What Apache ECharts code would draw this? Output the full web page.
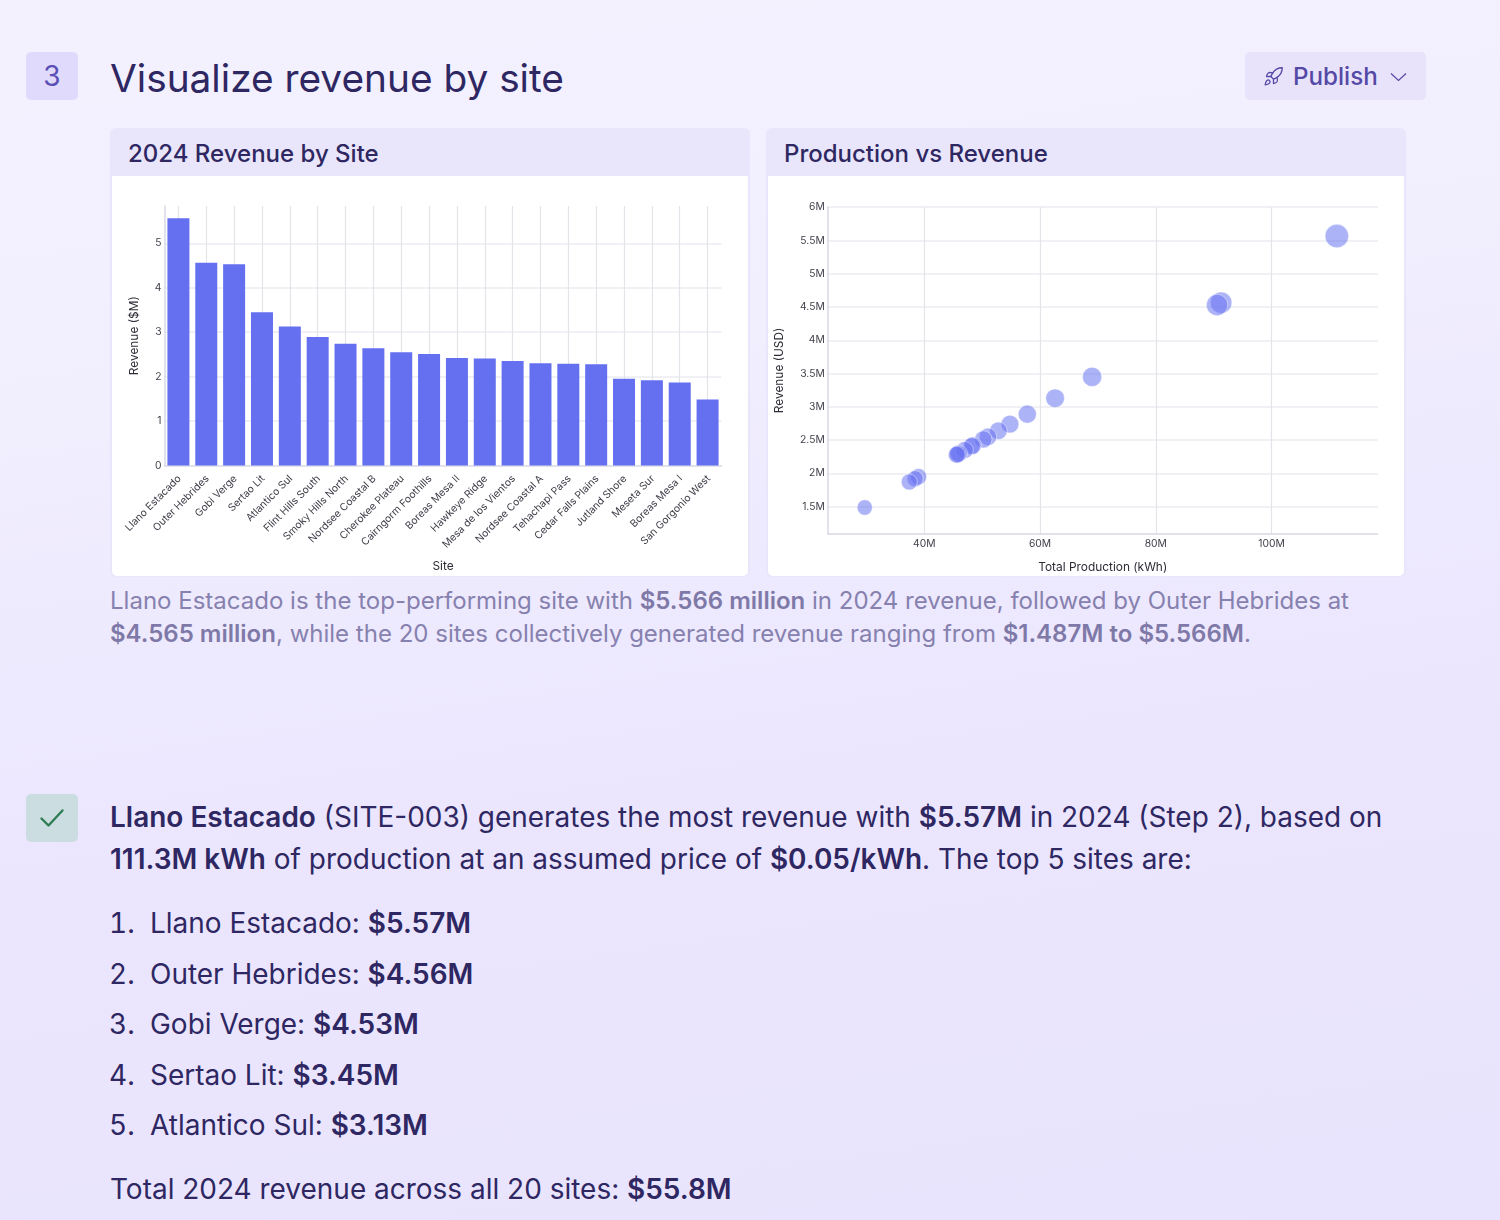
<!DOCTYPE html>
<html>
<head>
<meta charset="utf-8">
<title>Visualize revenue by site</title>
<script src="https://cdn.jsdelivr.net/npm/echarts@6/dist/echarts.min.js"></script>
<style>
  html, body { margin: 0; padding: 0; }
  body {
    width: 1500px; height: 1220px; position: relative; overflow: hidden;
    background: linear-gradient(172deg, #f4f1ff 0%, #f1eefe 30%, #ebe6fe 62%, #e9e4fd 100%);
    font-family: Inter, "Noto Sans", sans-serif; color: #2e2762;
  }
  .t { position: absolute; white-space: nowrap; line-height: 1; transform: translateY(-50%); }
  b { font-weight: 600; }
  .badge { position: absolute; left: 26px; width: 52px; height: 48px; border-radius: 5px; display: flex; align-items: center; justify-content: center; }
  .card { position: absolute; top: 128px; width: 640px; height: 449px; border-radius: 6px; background: #e9e6fb; }
  .card .body { position: absolute; left: 2px; right: 2px; top: 48px; bottom: 1px; background: #fff; border-radius: 0 0 5px 5px; }
  .card .plot { width: 636px; height: 400px; }
  .card .name { position: absolute; left: 18px; top: 26px; font-size: 24px; font-weight: 460; transform: translateY(-50%); line-height: 1; white-space: nowrap; }
  .publish { position: absolute; left: 1245px; top: 52px; width: 181px; height: 48px; background: #e8e3fa; border-radius: 5px; color: #5549a6; }
  .caption { color: #8681ae; font-size: 24.03px; }
  .caption b { color: #7f79a8; }
  .line { font-size: 27.98px; }
  .num { font-variant-numeric: tabular-nums; }
</style>
</head>
<body>
  <div class="badge" style="top:52px;background:#e0dafc;color:#5a4fb5;font-size:28px;">3</div>
  <div class="t" style="left:110px;top:78px;font-size:38.8px;">Visualize revenue by site</div>

  <div class="publish">
    <svg style="position:absolute;left:18px;top:14px" width="21" height="21" viewBox="0 0 24 24" fill="none" stroke="#5549a6" stroke-width="1.5" stroke-linecap="round" stroke-linejoin="round">
      <path d="M4.5 16.5c-1.5 1.26-2 5-2 5s3.74-.5 5-2c.71-.84.7-2.13-.09-2.91a2.18 2.18 0 0 0-2.91-.09z"/>
      <path d="m12 15-3-3a22 22 0 0 1 2-3.95A12.88 12.88 0 0 1 22 2c0 2.72-.78 7.5-6 11a22.35 22.35 0 0 1-4 2z"/>
      <path d="M9 12H4s.55-3.03 2-4c1.62-1.08 5 0 5 0"/>
      <path d="M12 15v5s3.03-.55 4-2c1.08-1.62 0-5 0-5"/>
    </svg>
    <div class="t" style="left:48px;top:25px;font-size:24.2px;font-weight:460;">Publish</div>
    <svg style="position:absolute;left:144px;top:19px" width="19" height="12" viewBox="0 0 19 12" fill="none" stroke="#5549a6" stroke-width="1.2"><path d="M2 2.5 9.5 9.5 17 2.5"/></svg>
  </div>

  <div class="card" style="left:110px;">
    <div class="name">2024 Revenue by Site</div>
    <div class="body"><div class="plot" id="barPlot"></div></div>
  </div>
  <div class="card" style="left:766px;">
    <div class="name">Production vs Revenue</div>
    <div class="body"><div class="plot" id="scatterPlot"></div></div>
  </div>

  <div class="t caption" style="left:110px;top:601.4px;">Llano Estacado is the top-performing site with <b>$5.566 million</b> in 2024 revenue, followed by Outer Hebrides at</div>
  <div class="t caption" style="left:110px;top:634.2px;"><b>$4.565 million</b>, while the 20 sites collectively generated revenue ranging from <b>$1.487M to $5.566M</b>.</div>

  <div class="badge" style="top:794px;background:#cbdde0;">
    <svg width="26" height="22" viewBox="0 0 26 22" fill="none" stroke="#2f7d55" stroke-width="2.4" stroke-linecap="round" stroke-linejoin="round"><path d="M2.5 11.5 9.5 18.5 23.5 3.5"/></svg>
  </div>
  <div class="t line" style="left:110px;top:816.5px;"><b>Llano Estacado</b> (SITE-003) generates the most revenue with <b>$5.57M</b> in 2024 (Step 2), based on</div>
  <div class="t line" style="left:110px;top:858.5px;"><b>111.3M kWh</b> of production at an assumed price of <b>$0.05/kWh</b>. The top 5 sites are:</div>

  <div class="t line num" style="left:109px;top:922.5px;">1.</div><div class="t line" style="left:150px;top:922.5px;">Llano Estacado: <b>$5.57M</b></div>
  <div class="t line num" style="left:109px;top:973.5px;">2.</div><div class="t line" style="left:150px;top:973.5px;">Outer Hebrides: <b>$4.56M</b></div>
  <div class="t line num" style="left:109px;top:1023.5px;">3.</div><div class="t line" style="left:150px;top:1023.5px;">Gobi Verge: <b>$4.53M</b></div>
  <div class="t line num" style="left:109px;top:1074.5px;">4.</div><div class="t line" style="left:150px;top:1074.5px;">Sertao Lit: <b>$3.45M</b></div>
  <div class="t line num" style="left:109px;top:1124.5px;">5.</div><div class="t line" style="left:150px;top:1124.5px;">Atlantico Sul: <b>$3.13M</b></div>
  <div class="t line" style="left:110px;top:1188.5px;">Total 2024 revenue across all 20 sites: <b>$55.8M</b></div>

<script>
// Sites ordered by 2024 revenue
const sites = ["Llano Estacado","Outer Hebrides","Gobi Verge","Sertao Lit","Atlantico Sul","Flint Hills South","Smoky Hills North","Nordsee Coastal B","Cherokee Plateau","Cairngorm Foothills","Boreas Mesa II","Hawkeye Ridge","Mesa de los Vientos","Nordsee Coastal A","Tehachapi Pass","Cedar Falls Plains","Jutland Shore","Meseta Sur","Boreas Mesa I","San Gorgonio West"];
// Revenue in $M
const revenueM = [5.566,4.565,4.53,3.45,3.13,2.89,2.74,2.64,2.55,2.51,2.42,2.41,2.35,2.30,2.29,2.28,1.95,1.92,1.87,1.487];
// Total production in kWh, same site order
const productionKWh = [111.3e6,91.3e6,90.6e6,69.0e6,62.6e6,57.8e6,54.8e6,52.8e6,51.0e6,50.2e6,48.4e6,48.2e6,47.0e6,46.0e6,45.8e6,45.6e6,39.0e6,38.4e6,37.4e6,29.7e6];
// Revenue in USD, same site order
const revenueUSD = [5566000,4565000,4530000,3450000,3130000,2890000,2740000,2640000,2550000,2510000,2420000,2410000,2350000,2300000,2290000,2280000,1950000,1920000,1870000,1487000];
// Tick positions of the scatter axes
const productionTicks = [40e6,60e6,80e6,100e6];
const revenueTicks = [1.5e6,2e6,2.5e6,3e6,3.5e6,4e6,4.5e6,5e6,5.5e6,6e6];

const FONT = 'Inter, "Noto Sans", sans-serif';
const AXIS = '#d9d9e6', GRID_V = '#e3e3ea', GRID_H = '#f0f0f5', TICK = '#3f3f4a', NAME = '#2c2c36';
const millions = v => (v / 1e6) + 'M';

const bar = echarts.init(document.getElementById('barPlot'), null, { renderer: 'canvas' });
bar.setOption({
  animation: false,
  grid: { left: 52.5, top: 30, width: 557, height: 259.5, containLabel: false, outerBoundsMode: 'none' },
  xAxis: {
    type: 'category', data: sites,
    name: 'Site', nameLocation: 'middle', nameGap: 95,
    nameTextStyle: { fontFamily: FONT, fontSize: 11.9, color: NAME },
    axisLine: { lineStyle: { color: AXIS, width: 1.5 } },
    axisTick: { show: false, alignWithLabel: true },
    splitLine: { show: true, alignWithLabel: true, showMinLine: true, lineStyle: { color: GRID_V, width: 1.2 } },
    axisLabel: { interval: 0, rotate: 45, margin: 12.5, padding: [0, -1.5, 0, 0], fontFamily: FONT, fontSize: 10.3, color: TICK }
  },
  yAxis: {
    type: 'value', min: 0, max: 5.84, interval: 1,
    name: 'Revenue ($M)', nameLocation: 'middle', nameGap: 24,
    nameTextStyle: { fontFamily: FONT, fontSize: 11.9, color: NAME },
    axisLine: { show: true, lineStyle: { color: AXIS, width: 1.5 } },
    axisTick: { show: false },
    splitLine: { show: true, showMinLine: false, showMaxLine: false, lineStyle: { color: GRID_H, width: 2 } },
    axisLabel: { showMaxLabel: false, margin: 3, padding: [2, 0, 0, 0], fontFamily: FONT, fontSize: 10.3, color: TICK }
  },
  series: [{
    type: 'bar', data: revenueM, barCategoryGap: '21%',
    itemStyle: { color: '#6470f0' }
  }]
});

const scatter = echarts.init(document.getElementById('scatterPlot'), null, { renderer: 'canvas' });
scatter.setOption({
  animation: false,
  grid: { left: 59.7, top: 31.2, width: 550, height: 326.4, containLabel: false, outerBoundsMode: 'none' },
  xAxis: {
    type: 'value', min: 23300000, max: 118360000,
    name: 'Total Production (kWh)', nameLocation: 'middle', nameGap: 28,
    nameTextStyle: { fontFamily: FONT, fontSize: 11.9, color: NAME },
    axisLine: { lineStyle: { color: AXIS, width: 1.5 } },
    axisTick: { show: false, customValues: productionTicks },
    splitLine: { show: true, lineStyle: { color: GRID_V, width: 1.2 } },
    axisLabel: { customValues: productionTicks, margin: 5, formatter: millions, fontFamily: FONT, fontSize: 10.3, color: TICK }
  },
  yAxis: {
    type: 'value', min: 1095000, max: 6000000,
    name: 'Revenue (USD)', nameLocation: 'middle', nameGap: 42,
    nameTextStyle: { fontFamily: FONT, fontSize: 11.9, color: NAME },
    axisLine: { show: true, lineStyle: { color: AXIS, width: 1.5 } },
    axisTick: { show: false, customValues: revenueTicks },
    splitLine: { show: true, lineStyle: { color: GRID_H, width: 2 } },
    axisLabel: { customValues: revenueTicks, margin: 3, formatter: millions, fontFamily: FONT, fontSize: 10.3, color: TICK }
  },
  series: [{
    type: 'scatter',
    data: productionKWh.map((x, i) => [x, revenueUSD[i], sites[i]]),
    // bubble diameter grows with production
    symbolSize: d => 15.3 + (d[0] - 29.7e6) / 1e6 * 0.1,
    itemStyle: { color: 'rgba(100,112,240,0.53)', opacity: 1, borderColor: 'rgba(255,255,255,0.55)', borderWidth: 0.8 }
  }]
});
</script>
</body>
</html>
